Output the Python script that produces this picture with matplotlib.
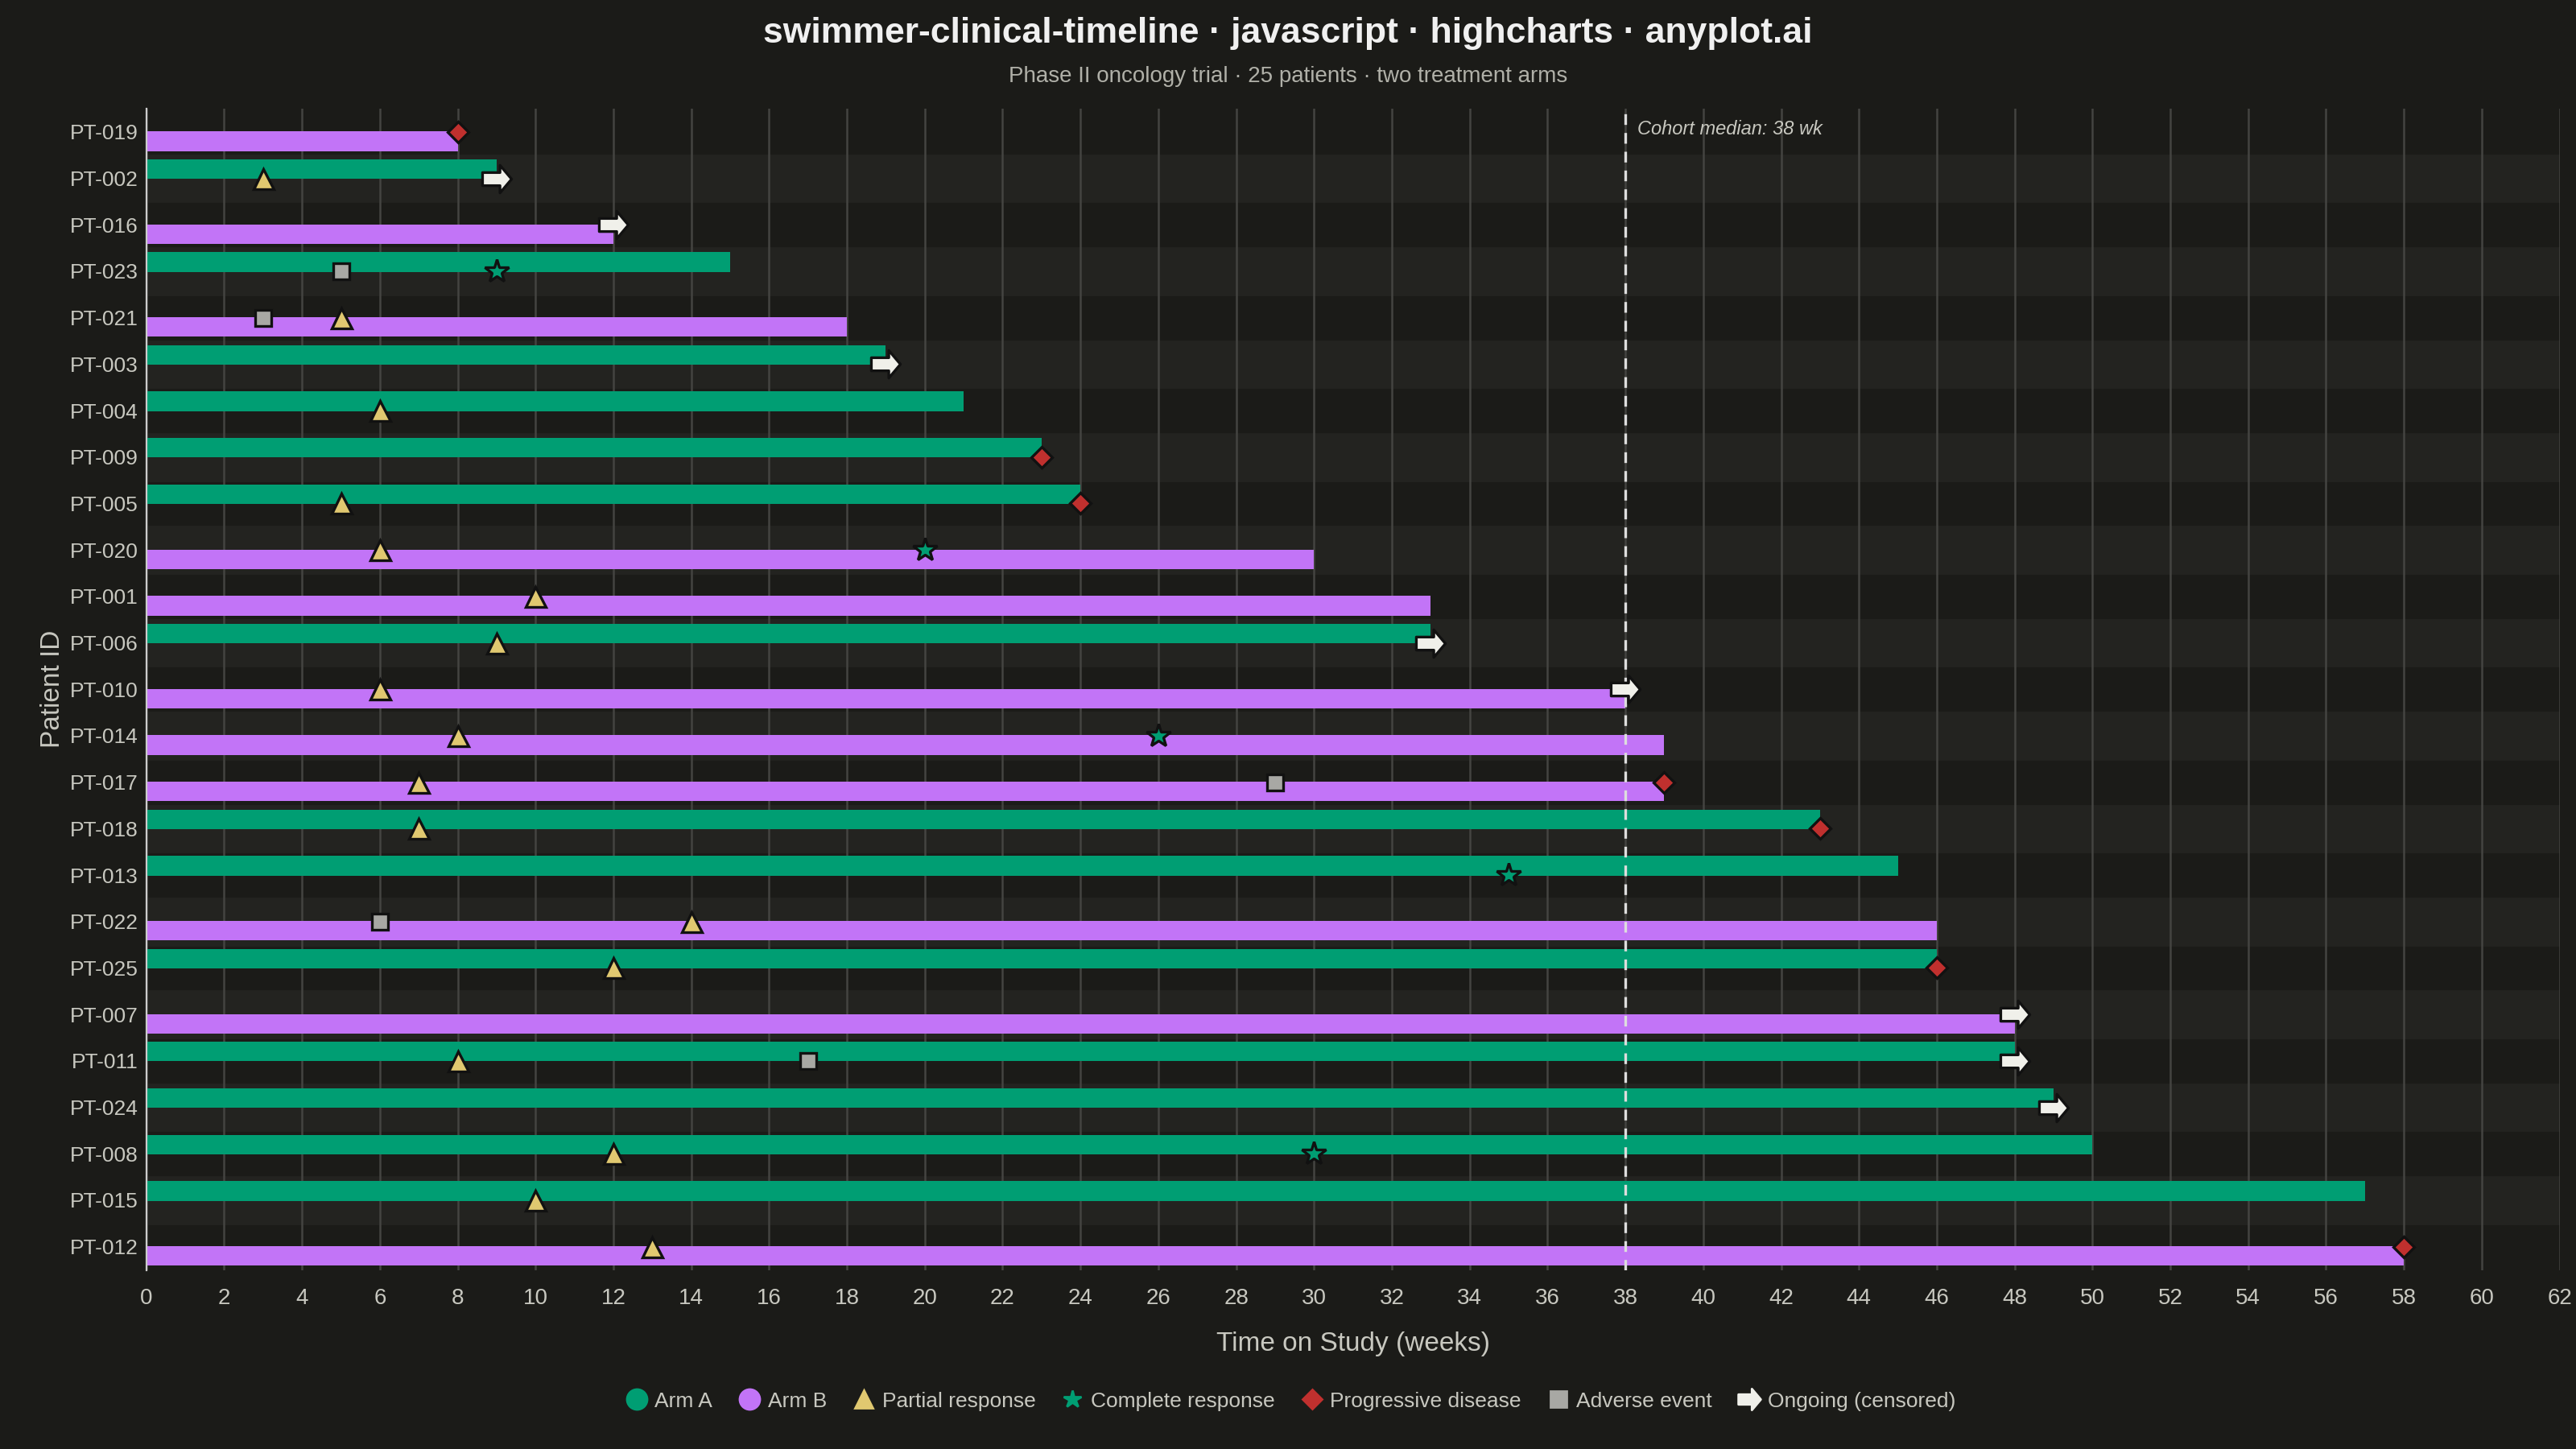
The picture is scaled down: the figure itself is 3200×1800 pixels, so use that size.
import matplotlib
matplotlib.use("Agg")
import matplotlib.pyplot as plt
from matplotlib.path import Path
from matplotlib.lines import Line2D

plt.rcParams["font.family"] = ["Liberation Sans", "DejaVu Sans"]

patients = ["PT-019", "PT-002", "PT-016", "PT-023", "PT-021", "PT-003", "PT-004", "PT-009",
            "PT-005", "PT-020", "PT-001", "PT-006", "PT-010", "PT-014", "PT-017", "PT-018",
            "PT-013", "PT-022", "PT-025", "PT-007", "PT-011", "PT-024", "PT-008", "PT-015", "PT-012"]
arms = ["B", "A", "B", "A", "B", "A", "A", "A", "A", "B", "B", "A", "B", "B", "B", "A",
        "A", "B", "A", "B", "A", "A", "A", "A", "B"]
durations = [8, 9, 12, 15, 18, 19, 21, 23, 24, 30, 33, 33, 38, 39, 39, 43,
             45, 46, 46, 48, 48, 49, 50, 57, 58]
partial = {"PT-002": 3, "PT-021": 5, "PT-004": 6, "PT-005": 5, "PT-020": 6, "PT-001": 10,
           "PT-006": 9, "PT-010": 6, "PT-014": 8, "PT-017": 7, "PT-018": 7, "PT-022": 14,
           "PT-025": 12, "PT-011": 8, "PT-008": 12, "PT-015": 10, "PT-012": 13}
complete = {"PT-023": 9, "PT-020": 20, "PT-014": 26, "PT-013": 35, "PT-008": 30}
progressive = {"PT-019": 8, "PT-009": 23, "PT-005": 24, "PT-017": 39, "PT-018": 43,
               "PT-025": 46, "PT-012": 58}
adverse = {"PT-023": 5, "PT-021": 3, "PT-017": 29, "PT-022": 6, "PT-011": 17}
ongoing = ["PT-002", "PT-016", "PT-003", "PT-006", "PT-010", "PT-007", "PT-011", "PT-024"]
median_wk = 38

BG = "#1b1b18"
BAND = "#232320"
TXT = "#c8c8c0"
GREEN = "#009e73"
PURPLE = "#c274f7"

arrow = Path([(-1, -0.45), (0.2, -0.45), (0.2, -0.95), (1, 0), (0.2, 0.95), (0.2, 0.45),
              (-1, 0.45), (-1, -0.45)],
             [Path.MOVETO] + [Path.LINETO] * 6 + [Path.CLOSEPOLY])

fig = plt.figure(figsize=(16, 9), dpi=200, facecolor=BG)
ax = fig.add_axes([0.0568, 0.1236, 0.9368, 0.8014], facecolor=BG)

idx = {p: i for i, p in enumerate(patients)}
for i in range(len(patients)):
    if i % 2 == 1:
        ax.axhspan(i - 0.5, i + 0.5, color=BAND, zorder=0)

ax.set_xlim(0, 62)
ax.set_ylim(len(patients) - 0.5, -0.5)
ax.set_xticks(range(0, 63, 2))
ax.grid(axis="x", color="#444441", lw=0.9, zorder=1)

for i, (p, a, d) in enumerate(zip(patients, arms, durations)):
    off = -0.2 if a == "A" else 0.2
    ax.barh(i + off, d, height=0.42, color=GREEN if a == "A" else PURPLE, zorder=2)

ax.axvline(median_wk, color="#dddddd", ls=(0, (4, 3)), lw=1.2, zorder=3)
ax.text(median_wk + 0.3, -0.05, f"Cohort median: {median_wk} wk", color=TXT, fontsize=8.5,
        style="italic", va="center", zorder=5)

kw = dict(markeredgecolor="#111111", markeredgewidth=1.2, ls="none", zorder=6)
ax.plot(list(partial.values()), [idx[p] for p in partial], marker="^", ms=9, color="#e0c870", **kw)
ax.plot(list(complete.values()), [idx[p] for p in complete], marker="*", ms=11, color="#009e73", **kw)
ax.plot(list(progressive.values()), [idx[p] for p in progressive], marker="D", ms=6.5, color="#c0302e", **kw)
ax.plot(list(adverse.values()), [idx[p] for p in adverse], marker="s", ms=7.5, color="#a8a8a4", **kw)
ax.plot([durations[idx[p]] for p in ongoing], [idx[p] for p in ongoing], marker=arrow, ms=13,
        color="#f0f0ea", **kw)

ax.set_yticks(range(len(patients)))
ax.set_yticklabels(patients)
ax.tick_params(axis="both", colors=TXT, labelsize=9.5, length=0)
ax.tick_params(axis="x", pad=8, labelsize=10)
for s in ["top", "right", "bottom"]:
    ax.spines[s].set_visible(False)
ax.spines["left"].set_color("#cccccc")
ax.set_xlabel("Time on Study (weeks)", color=TXT, fontsize=12, labelpad=10)
ax.set_ylabel("Patient ID", color=TXT, fontsize=12, labelpad=2)

fig.text(0.5, 0.977, "swimmer-clinical-timeline · javascript · highcharts · anyplot.ai",
         ha="center", va="center", color="#f0f0f0", fontsize=16, fontweight="bold")
fig.text(0.5, 0.947, "Phase II oncology trial · 25 patients · two treatment arms",
         ha="center", va="center", color="#b0b0a8", fontsize=10)

handles = [
    Line2D([], [], marker="o", ls="none", color=GREEN, ms=9),
    Line2D([], [], marker="o", ls="none", color=PURPLE, ms=9),
    Line2D([], [], marker="^", ls="none", color="#e0c870", ms=8),
    Line2D([], [], marker="*", ls="none", color="#009e73", ms=8),
    Line2D([], [], marker="D", ls="none", color="#c0302e", ms=6),
    Line2D([], [], marker="s", ls="none", color="#a8a8a4", ms=7),
    Line2D([], [], marker=arrow, ls="none", color="#f0f0ea", ms=10),
]
labels = ["Arm A", "Arm B", "Partial response", "Complete response", "Progressive disease",
          "Adverse event", "Ongoing (censored)"]
fig.legend(handles, labels, loc="center", bbox_to_anchor=(0.5, 0.033), ncol=7, frameon=False,
           labelcolor=TXT, fontsize=9.5, handletextpad=0.1, columnspacing=1.0, handlelength=1.5)

fig.savefig("out.png", dpi=200, facecolor=BG)
